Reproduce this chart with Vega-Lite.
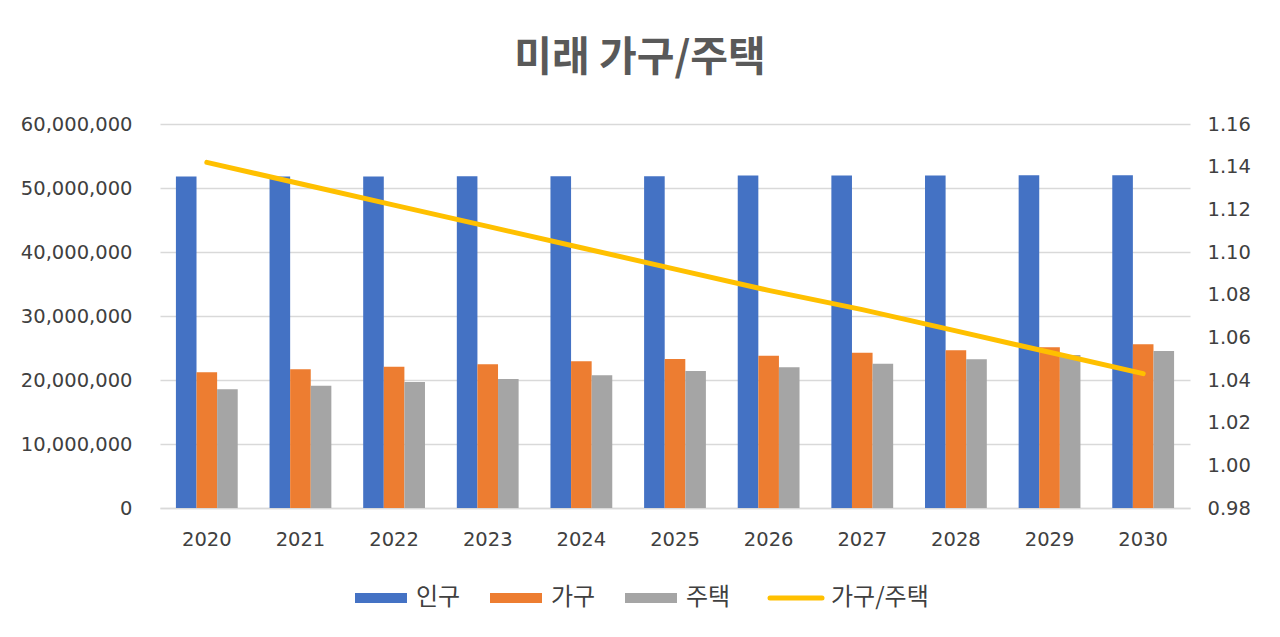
{
  "$schema": "https://vega.github.io/schema/vega-lite/v6.json",
  "width": 1030,
  "height": 384,
  "autosize": {"type": "none"},
  "padding": {"left": 160, "top": 124, "right": 90, "bottom": 129},
  "background": "white",
  "title": {
    "text": "미래 가구/주택",
    "fontSize": 41,
    "fontWeight": "bold",
    "font": "Noto Sans CJK KR",
    "color": "#595959",
    "anchor": "middle",
    "dx": -35,
    "offset": 34
  },
  "config": {
    "view": {"stroke": null},
    "font": "DejaVu Sans",
    "axis": {
      "labelFont": "DejaVu Sans",
      "labelFontSize": 19.5,
      "labelColor": "#404040",
      "ticks": false,
      "domain": false,
      "title": null
    },
    "legend": {
      "labelFont": "Noto Sans CJK KR",
      "labelFontSize": 24,
      "labelColor": "#404040"
    }
  },
  "datasets": {
    "bars": [
      {"year": "2020", "series": "인구", "value": 51780000},
      {"year": "2020", "series": "가구", "value": 21200000},
      {"year": "2020", "series": "주택", "value": 18550000},
      {"year": "2021", "series": "인구", "value": 51800000},
      {"year": "2021", "series": "가구", "value": 21670000},
      {"year": "2021", "series": "주택", "value": 19110000},
      {"year": "2022", "series": "인구", "value": 51810000},
      {"year": "2022", "series": "가구", "value": 22080000},
      {"year": "2022", "series": "주택", "value": 19690000},
      {"year": "2023", "series": "인구", "value": 51820000},
      {"year": "2023", "series": "가구", "value": 22450000},
      {"year": "2023", "series": "주택", "value": 20160000},
      {"year": "2024", "series": "인구", "value": 51830000},
      {"year": "2024", "series": "가구", "value": 22920000},
      {"year": "2024", "series": "주택", "value": 20730000},
      {"year": "2025", "series": "인구", "value": 51850000},
      {"year": "2025", "series": "가구", "value": 23280000},
      {"year": "2025", "series": "주택", "value": 21410000},
      {"year": "2026", "series": "인구", "value": 51960000},
      {"year": "2026", "series": "가구", "value": 23800000},
      {"year": "2026", "series": "주택", "value": 21980000},
      {"year": "2027", "series": "인구", "value": 51970000},
      {"year": "2027", "series": "가구", "value": 24270000},
      {"year": "2027", "series": "주택", "value": 22550000},
      {"year": "2028", "series": "인구", "value": 51970000},
      {"year": "2028", "series": "가구", "value": 24640000},
      {"year": "2028", "series": "주택", "value": 23230000},
      {"year": "2029", "series": "인구", "value": 51980000},
      {"year": "2029", "series": "가구", "value": 25100000},
      {"year": "2029", "series": "주택", "value": 23900000},
      {"year": "2030", "series": "인구", "value": 51980000},
      {"year": "2030", "series": "가구", "value": 25600000},
      {"year": "2030", "series": "주택", "value": 24530000}
    ],
    "ratio": [
      {"year": "2020", "series": "가구/주택", "ratio": 1.142},
      {"year": "2021", "series": "가구/주택", "ratio": 1.132},
      {"year": "2022", "series": "가구/주택", "ratio": 1.122},
      {"year": "2023", "series": "가구/주택", "ratio": 1.112},
      {"year": "2024", "series": "가구/주택", "ratio": 1.102},
      {"year": "2025", "series": "가구/주택", "ratio": 1.092},
      {"year": "2026", "series": "가구/주택", "ratio": 1.082},
      {"year": "2027", "series": "가구/주택", "ratio": 1.073},
      {"year": "2028", "series": "가구/주택", "ratio": 1.063},
      {"year": "2029", "series": "가구/주택", "ratio": 1.053},
      {"year": "2030", "series": "가구/주택", "ratio": 1.043}
    ]
  },
  "encoding": {
    "x": {
      "field": "year",
      "type": "nominal",
      "scale": {"paddingInner": 0.34, "paddingOuter": 0.17},
      "axis": {
        "labelAngle": 0,
        "labelPadding": 22,
        "domain": true,
        "domainColor": "#d9d9d9",
        "domainWidth": 1.5
      }
    },
    "color": {
      "field": "series",
      "type": "nominal",
      "scale": {
        "domain": ["인구", "가구", "주택", "가구/주택"],
        "range": ["#4472C4", "#ED7D31", "#A5A5A5", "#FFC000"]
      },
      "legend": {
        "title": null,
        "orient": "none",
        "direction": "horizontal",
        "columns": 4,
        "legendX": 209,
        "legendY": 462,
        "columnPadding": 29,
        "labelOffset": 23,
        "symbolSize": 2704,
        "symbolOpacity": 1,
        "encode": {
          "symbols": {
            "update": {
              "shape": {"signal": "datum.value === '가구/주택' ? 'M-1,0H1' : 'M-1,-0.19H1V0.19H-1Z'"},
              "strokeWidth": {"signal": "datum.value === '가구/주택' ? 5 : 0"},
              "fill": {"signal": "datum.value === '가구/주택' ? 'transparent' : scale('color', datum.value)"},
              "stroke": {"signal": "scale('color', datum.value)"},
              "strokeCap": {"value": "round"}
            }
          }
        }
      }
    }
  },
  "layer": [
    {
      "data": {"name": "bars"},
      "mark": {"type": "bar"},
      "encoding": {
        "xOffset": {
          "field": "series",
          "type": "nominal",
          "scale": {"domain": ["인구", "가구", "주택"], "paddingInner": 0, "paddingOuter": 0}
        },
        "y": {
          "field": "value",
          "type": "quantitative",
          "scale": {"domain": [0, 60000000], "nice": false},
          "axis": {
            "orient": "left",
            "values": [0, 10000000, 20000000, 30000000, 40000000, 50000000, 60000000],
            "format": ",.0f",
            "labelPadding": 28,
            "grid": true,
            "gridColor": "#d9d9d9",
            "gridWidth": 1.3
          }
        }
      }
    },
    {
      "data": {"name": "ratio"},
      "mark": {"type": "line", "strokeWidth": 5, "strokeCap": "round"},
      "encoding": {
        "y": {
          "field": "ratio",
          "type": "quantitative",
          "scale": {"domain": [0.98, 1.16], "nice": false, "zero": false},
          "axis": {
            "orient": "right",
            "values": [0.98, 1.0, 1.02, 1.04, 1.06, 1.08, 1.1, 1.12, 1.14, 1.16],
            "format": ".2f",
            "labelPadding": 17,
            "grid": false
          }
        }
      }
    }
  ],
  "resolve": {"scale": {"y": "independent"}}
}
